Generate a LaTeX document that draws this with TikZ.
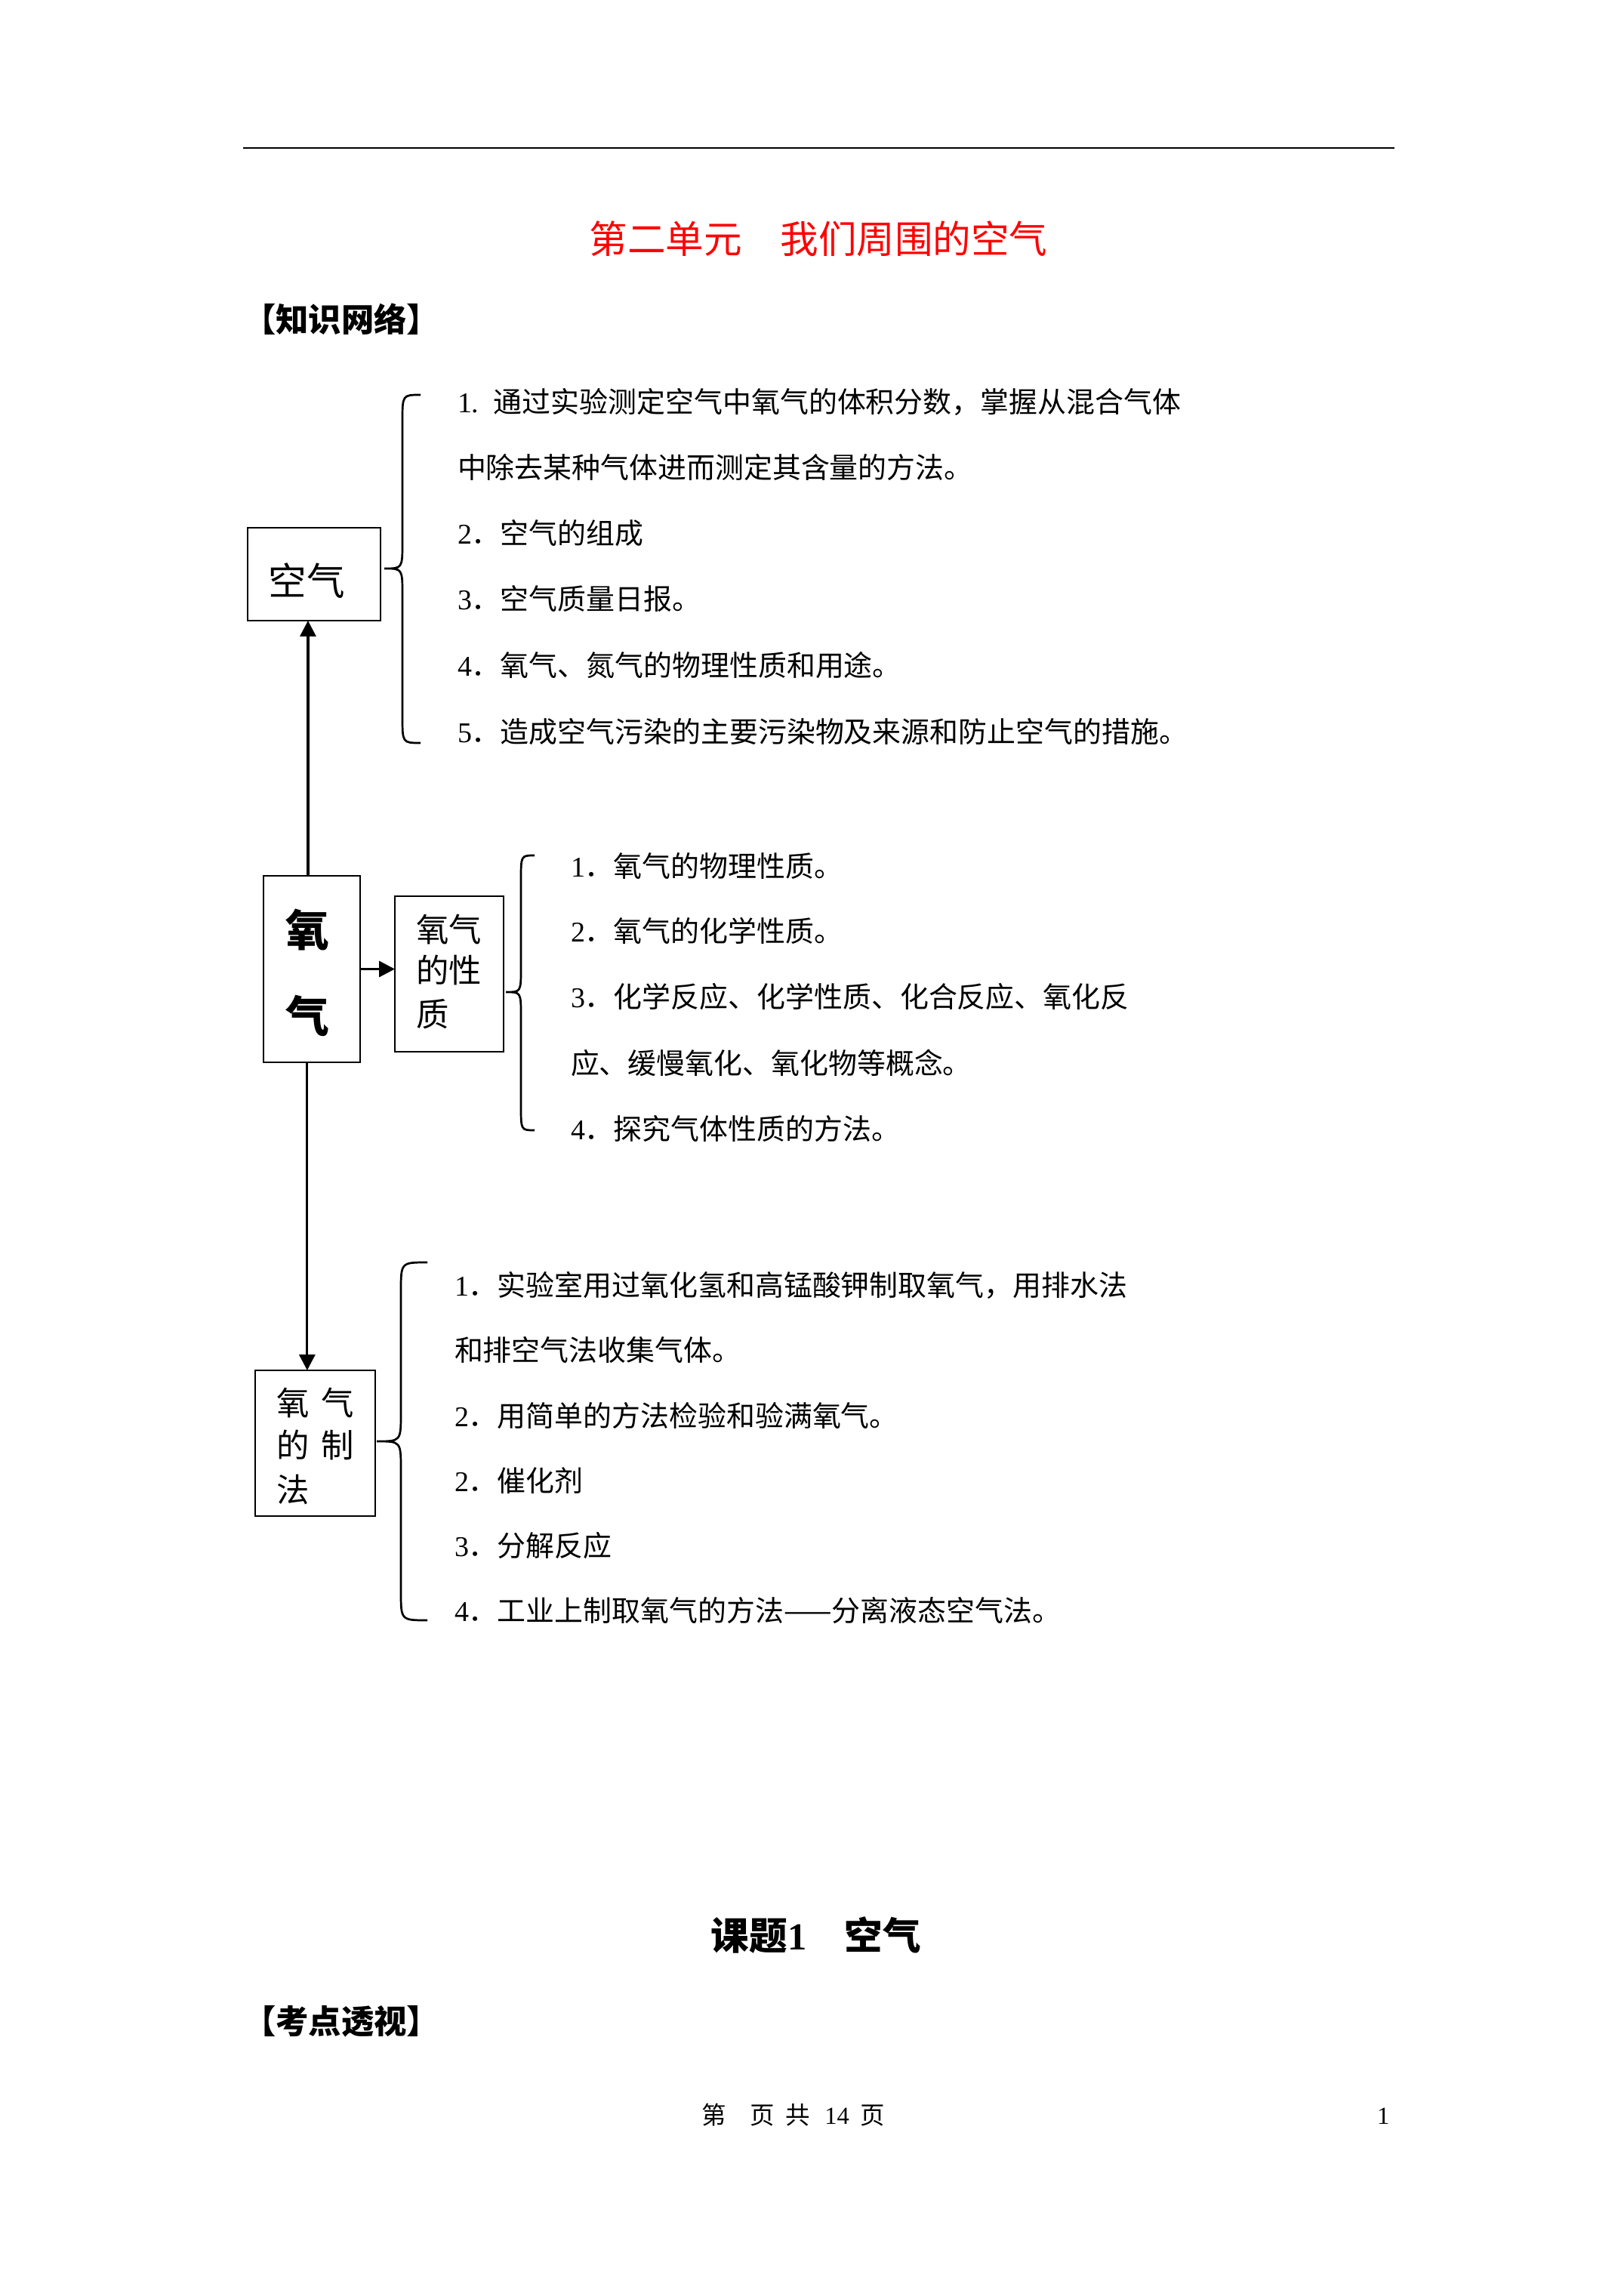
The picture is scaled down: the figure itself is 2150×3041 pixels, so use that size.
\documentclass[tikz,border=0pt]{standalone}
\usepackage{fontspec}
\setmainfont{Liberation Serif}
\newfontfamily\cjk{Noto Sans CJK SC}
\usetikzlibrary{arrows.meta}
\newcommand\zh[1]{{\cjk #1}}
\begin{document}
\begin{tikzpicture}[x=0.27689pt,y=-0.27689pt]
\tikzset{
  txt/.style={inner sep=0pt, outer sep=0pt, anchor=base west, font=\fontsize{10.5pt}{12pt}\selectfont},
  boxtxt/.style={inner sep=0pt, outer sep=0pt, anchor=base west, font=\fontsize{12pt}{14pt}\selectfont\cjk},
  box/.style={draw, line width=0.75pt, inner sep=0pt, outer sep=0pt},
  arr/.style={line width=0.9pt, -{Triangle[length=5.8pt,width=5.8pt]}},
  bracestroke/.style={line width=0.75pt},
  headbold/.style={inner sep=0pt, outer sep=0pt, anchor=base west, font=\fontsize{12pt}{14pt}\selectfont\cjk\bfseries},
}
\useasboundingbox (0,0) rectangle (2150,3041);

% top rule
\draw[line width=0.75pt] (322,196) -- (1847,196);

% title
\node[inner sep=0pt, anchor=base, font=\fontsize{14pt}{16pt}\selectfont\cjk, text=red] (title) at (1084,336) {第二单元　我们周围的空气};

\node[headbold] (zswl) at (322,439.5) {【知识网络】};

% group 1
\node[txt] (a1) at (606,547) {1.\hspace{5.4pt}\zh{通过实验测定空气中氧气的体积分数，掌握从混合气体}};
\node[txt] (a2) at (606,634) {\zh{中除去某种气体进而测定其含量的方法。}};
\node[txt] (a3) at (606,721) {2\zh{．空气的组成}};
\node[txt] (a4) at (606,808) {3\zh{．空气质量日报。}};
\node[txt] (a5) at (606,896) {4\zh{．氧气、氮气的物理性质和用途。}};
\node[txt] (a6) at (606,983) {5\zh{．造成空气污染的主要污染物及来源和防止空气的措施。}};

\draw[bracestroke] (557,523) .. controls (533,523) .. (533,558) -- (533,718) .. controls (533,753) .. (509,753) .. controls (533,753) .. (533,788) -- (533,949) .. controls (533,984) .. (557,984);

% group 2
\node[txt] (b1) at (756,1161) {1\zh{．氧气的物理性质。}};
\node[txt] (b2) at (756,1247) {2\zh{．氧气的化学性质。}};
\node[txt] (b3) at (756,1334) {3\zh{．化学反应、化学性质、化合反应、氧化反}};
\node[txt] (b4) at (756,1422) {\zh{应、缓慢氧化、氧化物等概念。}};
\node[txt] (b5) at (756,1509) {4\zh{．探究气体性质的方法。}};

\draw[bracestroke] (708,1133) .. controls (690,1133) .. (690,1165) -- (690,1282) .. controls (690,1314) .. (670,1314) .. controls (690,1314) .. (690,1346) -- (690,1465) .. controls (690,1497) .. (708,1497);

% group 3
\node[txt] (c1) at (602,1716) {1\zh{．实验室用过氧化氢和高锰酸钾制取氧气，用排水法}};
\node[txt] (c2) at (602,1802) {\zh{和排空气法收集气体。}};
\node[txt] (c3) at (602,1889) {2\zh{．用简单的方法检验和验满氧气。}};
\node[txt] (c4) at (602,1975) {2\zh{．催化剂}};
\node[txt] (c5) at (602,2061) {3\zh{．分解反应}};
\node[txt] (c6) at (602,2147) {4\zh{．工业上制取氧气的方法——分离液态空气法。}};

\draw[bracestroke] (566,1672) .. controls (531,1672) .. (531,1710) -- (531,1871) .. controls (531,1909) .. (499,1909) .. controls (531,1909) .. (531,1947) -- (531,2108) .. controls (531,2146) .. (566,2146);

% boxes
\node[box, minimum width={176*0.27689pt}, minimum height={123*0.27689pt}] (kq) at (416,760.5) {};
\node[inner sep=0pt, anchor=base, font=\fontsize{14pt}{16pt}\selectfont\cjk] (kqt) at (406,789) {空气};

\node[box, minimum width={128*0.27689pt}, minimum height={247*0.27689pt}] (yang) at (413,1283.5) {};
\node[inner sep=0pt, anchor=base, font=\fontsize{16pt}{18pt}\selectfont\cjk\bfseries] (yt1) at (407.5,1253) {氧};
\node[inner sep=0pt, anchor=base, font=\fontsize{16pt}{18pt}\selectfont\cjk\bfseries] (yt2) at (407.5,1367) {气};

\node[box, minimum width={144*0.27689pt}, minimum height={206*0.27689pt}] (xz) at (595,1290) {};
\node[boxtxt] (xz1) at (551,1247) {氧气};
\node[boxtxt] (xz2) at (551,1301.5) {的性};
\node[boxtxt] (xz3) at (551,1359) {质};

\node[box, minimum width={159*0.27689pt}, minimum height={193*0.27689pt}] (zf) at (417.5,1911.5) {};
\node[boxtxt] (zf1) at (366,1874.5) {氧};
\node[boxtxt] (zf2) at (425,1874.5) {气};
\node[boxtxt] (zf3) at (366,1930.5) {的};
\node[boxtxt] (zf4) at (425,1930.5) {制};
\node[boxtxt] (zf5) at (366,1989) {法};

% arrows
\coordinate (ua) at ([xshift=-1.4pt]yang.north);
\draw[arr] (ua) -- (ua |- kq.south);
\draw[arr] (yang.east) -- (yang.east -| xz.west);
\coordinate (da) at ([xshift=-1.7pt]yang.south);
\draw[arr] (da) -- (da |- zf.north);

% lower headings
\node[inner sep=0pt, anchor=base, font=\fontsize{14pt}{16pt}\selectfont\bfseries] (kt) at (1081,2582) {\zh{课题}1\zh{　空气}};
\node[headbold] (kdts) at (322,2693.5) {【考点透视】};

% footer
\node[inner sep=0pt, anchor=base west, font=\fontsize{9pt}{11pt}\selectfont] (foot) at (929,2813) {\zh{第}\hspace{8.6pt}\zh{页}\hspace{4.2pt}\zh{共}\hspace{5.2pt}14\hspace{4.2pt}\zh{页}};
\node[inner sep=0pt, anchor=base east, font=\fontsize{9pt}{11pt}\selectfont] (pnum) at (1841,2813) {1};
\end{tikzpicture}
\end{document}
